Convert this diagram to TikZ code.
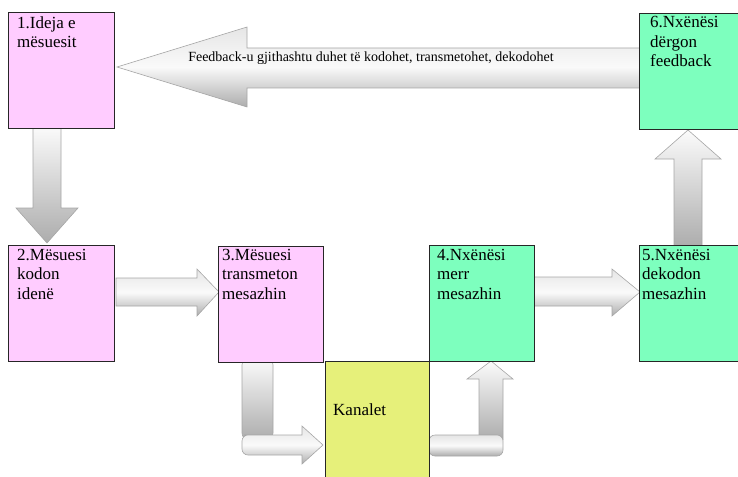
\documentclass[tikz,border=0pt]{standalone}
\usepackage{fontspec}
\setmainfont{Liberation Serif}
\usetikzlibrary{calc}
\definecolor{pinkbox}{RGB}{255,204,255}
\definecolor{greenbox}{RGB}{125,255,190}
\definecolor{yellowbox}{RGB}{230,240,122}
\tikzset{
  box/.style={draw=black!85, line width=1pt, anchor=north west, minimum width=106pt, minimum height=116pt, inner sep=0pt},
  boxtxt/.style={anchor=north west, align=left, inner sep=0pt, font=\fontsize{17}{19.5}\selectfont},
  blockh/.style={draw=gray!70, line width=0.6pt, top color=gray!20, bottom color=gray!65, middle color=white!96!gray},
  blockv/.style={draw=gray!70, line width=0.6pt, top color=white!97!gray, bottom color=gray!65},
}
\begin{document}
\begin{tikzpicture}[x=1pt,y=-1pt]
\useasboundingbox (0,0) rectangle (738,476);
% ---- arrows (drawn beneath boxes)
% feedback arrow 6 -> 1
\path[blockh] (645,48) -- (247,48) -- (247,27) -- (117,67) -- (247,107) -- (247,88) -- (645,88) -- cycle;
% down arrow 1 -> 2
\path[blockv] (33,126) -- (61,126) -- (61,208) -- (78,208) -- (47,243) -- (16,208) -- (33,208) -- cycle;
% up arrow 5 -> 6
\path[blockv] (674,247) -- (674,159) -- (655,159) -- (688,130) -- (721,159) -- (702,159) -- (702,247) -- cycle;
% arrow 2 -> 3
\path[blockh] (116,278) -- (197,278) -- (197,269) -- (219,292) -- (197,316) -- (197,306) -- (116,306) -- cycle;
% arrow 4 -> 5
\path[blockh] (533,277) -- (612,277) -- (612,269) -- (640,292) -- (612,316) -- (612,306) -- (533,306) -- cycle;
% bent arrow 3 -> Kanalet
\path[blockv, rounded corners=7pt] (242,358) rectangle (273,440);
\path[blockh] (250,435) -- (302,435) -- (302,426) -- (323,445) -- (302,464) -- (302,455) -- (250,455) [rounded corners=6pt] -- (242,455) -- (242,435) -- cycle;
% bent arrow Kanalet -> 4
\path[blockv] (479,440) -- (479,379) -- (467,379) -- (491,361) -- (513,379) -- (503,379) -- (503,440) -- cycle;
\path[blockh, rounded corners=6pt] (429,435) rectangle (503,456);
% ---- boxes
\node[box, fill=pinkbox] (b1) at (8,12) {};
\node[box, fill=greenbox] (b6) at (639,13) {};
\node[box, fill=pinkbox] (b2) at (8,245) {};
\node[box, fill=pinkbox, minimum width=105pt] (b3) at (218,246) {};
\node[box, fill=greenbox, minimum width=105pt] (b4) at (429,245) {};
\node[box, fill=greenbox] (b5) at (639,245) {};
\node[box, fill=yellowbox, minimum width=104pt] (k) at (325,361) {};
% ---- texts
\node[boxtxt] (t1) at ($(b1.north west)+(9,4.5)$) {1.Ideja e\\mësuesit};
\node[boxtxt] (t6) at ($(b6.north west)+(11,3.5)$) {6.Nxënësi\\dërgon\\feedback};
\node[boxtxt] (t2) at ($(b2.north west)+(9,4)$) {2.Mësuesi\\kodon\\idenë};
\node[boxtxt] (t3) at ($(b3.north west)+(4,3)$) {3.Mësuesi\\transmeton\\mesazhin};
\node[boxtxt] (t4) at ($(b4.north west)+(8,4)$) {4.Nxënësi\\merr\\mesazhin};
\node[boxtxt] (t5) at ($(b5.north west)+(3,4)$) {5.Nxënësi\\dekodon\\mesazhin};
\node[anchor=base west, inner sep=0pt, font=\fontsize{17}{19.5}\selectfont] (tk) at ($(k.north west)+(8,54)$) {Kanalet};
\node[anchor=base, inner sep=0pt, font=\fontsize{14}{16}\selectfont] (tf) at (371,62) {Feedback-u gjithashtu duhet të kodohet, transmetohet, dekodohet};
\end{tikzpicture}
\end{document}
